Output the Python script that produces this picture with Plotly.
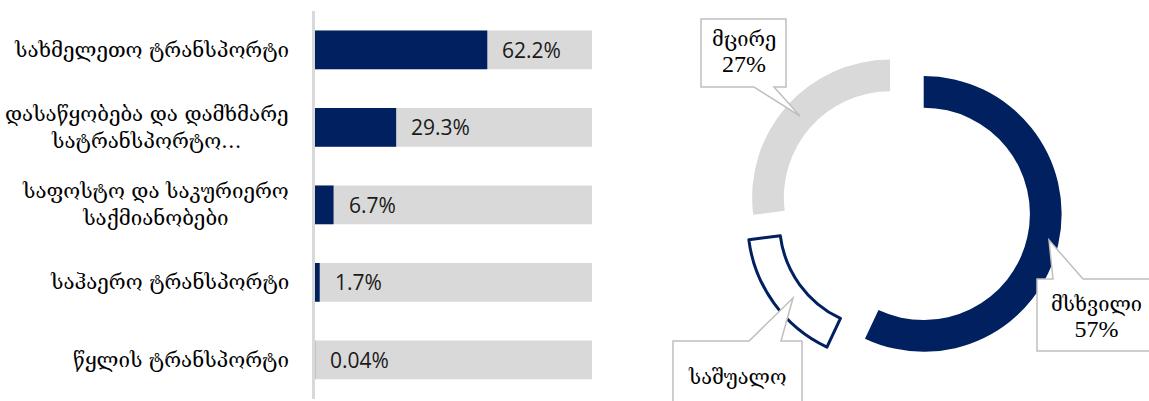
import plotly.graph_objects as go

# --- data -------------------------------------------------------------
categories = [
    "სახმელეთო ტრანსპორტი",
    "დასაწყობება და დამხმარე<br>სატრანსპორტო…",
    "საფოსტო და საკურიერო<br>საქმიანობები",
    "საჰაერო ტრანსპორტი",
    "წყლის ტრანსპორტი",
]
shares = [62.2, 29.3, 6.7, 1.7, 0.04]
scale_max = 100

size_labels = ["მსხვილი", "საშუალო", "მცირე"]
size_shares = [57, 16, 27]

# --- styling ----------------------------------------------------------
W, H = 1149, 401
NAVY = "#002060"
NAVY_BAR = "rgba(0,32,96,0.999)"   # sub-pixel bars are not widened to 1px
GREY = "#D9D9D9"
BOX_LINE = "#BFBFBF"
GEO_FONT = "DejaVu Serif, DejaVu Sans"
NUM_FONT = "Open Sans, Lato, DejaVu Sans"
CALLOUT_FONT = "Liberation Serif, DejaVu Serif"


def px(x, y):
    """pixel position -> paper coordinates"""
    return x / W, 1 - y / H


fig = go.Figure()

# background (full scale) bars
fig.add_trace(go.Bar(
    y=categories, x=[scale_max] * len(categories), orientation="h",
    marker=dict(color=GREY, line=dict(width=0)),
    hoverinfo="skip", xaxis="x", yaxis="y",
))
# value bars
fig.add_trace(go.Bar(
    y=categories, x=shares, orientation="h",
    marker=dict(color=NAVY_BAR, line=dict(width=0)),
    xaxis="x", yaxis="y",
))

# donut by enterprise size
fig.add_trace(go.Pie(
    labels=size_labels, values=size_shares,
    sort=False, direction="clockwise", rotation=0,
    hole=0.77,
    pull=[0.15, 0.16, 0.13],
    marker=dict(
        colors=[NAVY, "#FFFFFF", GREY],
        line=dict(color=[NAVY, NAVY, GREY], width=[0, 3, 0]),
    ),
    textinfo="none",
    domain=dict(x=[0.6471, 0.9256], y=[0.0786, 0.8771]),
))

annotations = []
# category labels, centred lines, right-aligned block
for cat in categories:
    annotations.append(dict(
        xref="paper", yref="y", x=px(291, 0)[0], y=cat,
        xanchor="right", yanchor="middle", align="center",
        text=cat, showarrow=False,
        font=dict(family=GEO_FONT, size=20.5, color="#000000"),
    ))
# value labels next to bar ends
for cat, v in zip(categories, shares):
    annotations.append(dict(
        xref="x", yref="y", x=v, y=cat, xanchor="left", yanchor="middle",
        xshift=13, text=f"{v:g}%", showarrow=False,
        font=dict(family=NUM_FONT, size=21, color="#1A1A1A"),
    ))


def callout(box, base, tip, tail_side):
    l, t, r, b = box
    bl, br = base
    X = lambda x: f"{x / W:.5f}"
    Y = lambda y: f"{1 - y / H:.5f}"
    if tail_side == "bottom":
        pts = [(l, t), (r, t), (r, b), (br, b), tip, (bl, b), (l, b)]
    else:
        pts = [(l, t), (bl, t), tip, (br, t), (r, t), (r, b), (l, b)]
    path = "M " + " L ".join(f"{X(x)},{Y(y)}" for x, y in pts) + " Z"
    return dict(type="path", xref="paper", yref="paper", path=path,
                fillcolor="#FFFFFF", line=dict(color=BOX_LINE, width=1.5),
                layer="above")


shapes = [
    callout((701, 19, 786, 87), (754, 774), (800, 116), "bottom"),
    callout((1037, 279, 1155, 351), (1053, 1083), (1049, 240), "top"),
    callout((673, 341, 802, 410), (749, 781), (793, 298), "top"),
]

# callout texts
lab_pos = {"მცირე": (743.5, 52), "მსხვილი": (1096, 317), "საშუალო": (737, 377)}
for lab, val in zip(size_labels, size_shares):
    x, y = px(*lab_pos[lab])
    if lab == "საშუალო":
        txt = lab
    else:
        txt = f"{lab}<br><span style='font-size:24px'>{val}%</span>"
    annotations.append(dict(
        xref="paper", yref="paper", x=x, y=y, xanchor="center", yanchor="middle",
        text=txt, showarrow=False, align="center",
        font=dict(family=CALLOUT_FONT, size=20, color="#000000"),
    ))

fig.update_layout(
    width=W, height=H,
    margin=dict(l=0, r=0, t=0, b=0),
    paper_bgcolor="#FFFFFF", plot_bgcolor="#FFFFFF",
    showlegend=False,
    barmode="overlay", bargap=0.5,
    xaxis=dict(domain=[315 / W, 592 / W], range=[0, scale_max],
               visible=False, fixedrange=True),
    yaxis=dict(domain=[1 - 398.5 / H, 1 - 11 / H], type="category",
               autorange="reversed", showticklabels=False, ticks="",
               showgrid=False, zeroline=False,
               showline=True, linecolor=GREY, linewidth=2.5),
    annotations=annotations,
    shapes=shapes,
)

fig.write_html("out.html")
